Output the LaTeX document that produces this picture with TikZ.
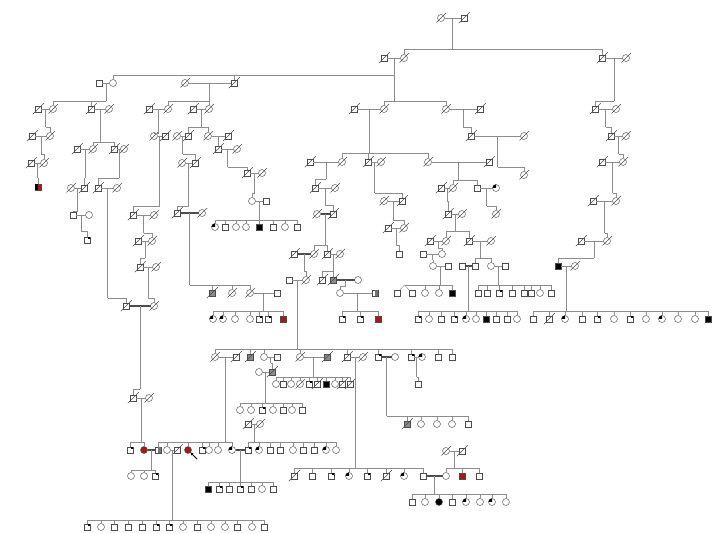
\documentclass[tikz,border=0pt]{standalone}
\usetikzlibrary{calc,arrows.meta}
\definecolor{redc}{RGB}{165,25,25}
\tikzset{
  ln/.style={draw=black!45, line width=0.45pt},
  dbl/.style={draw=black!70, line width=1.2pt},
  msym/.style={rectangle, draw=black!70, line width=0.45pt, fill=white, minimum size=6.5pt, inner sep=0pt, outer sep=0pt},
  fsym/.style={circle, draw=black!70, line width=0.45pt, fill=white, minimum size=7pt, inner sep=0pt, outer sep=0pt},
  sl/.style={draw=black!70, line width=0.45pt}
}
\newcommand\pslash[1]{\draw[sl] ($(#1.south west)+(-2,2)$) -- ($(#1.north east)+(2.5,-2.5)$);}
\newcommand\pM[3]{\node[msym] (#1) at (#2,#3) {};}
\newcommand\pF[3]{\node[fsym] (#1) at (#2,#3) {};}
\newcommand\pMd[3]{\pM{#1}{#2}{#3}\pslash{#1}}
\newcommand\pFd[3]{\pF{#1}{#2}{#3}\pslash{#1}}
\newcommand\pMa[3]{\node[msym,fill=black] (#1) at (#2,#3) {};}
\newcommand\pFa[3]{\node[fsym,fill=black] (#1) at (#2,#3) {};}
\newcommand\pMr[3]{\node[msym,fill=redc] (#1) at (#2,#3) {};}
\newcommand\pFr[3]{\node[fsym,fill=redc] (#1) at (#2,#3) {};}
\newcommand\pMc[3]{\pM{#1}{#2}{#3}\fill[black] (#1.north east) rectangle ++(-2.6,2.6);}
\newcommand\pFc[3]{\pF{#1}{#2}{#3}\fill[black] (#1.center) -- (#1.west) -- (#1.north west) -- (#1.north) -- cycle;}
\newcommand\pMh[3]{\node[msym,fill=black!45] (#1) at (#2,#3) {};\pslash{#1}}
\newcommand\pMhalf[3]{\pM{#1}{#2}{#3}\fill[black!55] (#1.north) rectangle (#1.south east);}
\newcommand\pMrb[3]{\node[msym,fill=redc] (#1) at (#2,#3) {};\fill[black] (#1.north west) rectangle (#1.south);}
\newcommand\cp[3]{\draw[ln] (#1) -- (#2); \coordinate (#3) at ($(#1)!0.5!(#2)$);}
\newcommand\cpd[3]{\draw[dbl] (#1) -- (#2); \coordinate (#3) at ($(#1)!0.5!(#2)$);}
\newcommand\sib[4]{\path (#1) ++(0,#2) coordinate (#3); \draw[ln] (#1) -- (#3);
  \foreach \ch in {#4} {\draw[ln] (\ch) |- (#3);}}
\begin{document}
\begin{tikzpicture}[x=1pt,y=-1pt]
\useasboundingbox (0,0) rectangle (718,534);
\fill[white] (0,0) rectangle (718,534);
% ---------- generation I
\pFd{a1}{441}{18} \pMd{a2}{464}{18}
\cp{a1}{a2}{ma}
\pMd{b2}{384}{58} \pFd{b1}{404}{58}
\pMd{b3}{602}{58} \pFd{b4}{626}{58}
\sib{ma}{31}{maX}{b1,b3}
\cp{b2}{b1}{mb}
\cp{b3}{b4}{mc}
% ---------- children of b1/b2
\pM{d2}{99}{83} \pF{d1}{113}{83}
\pFd{d4}{185}{83} \pMd{d3}{234}{83}
\pFd{e1}{384}{109} \pMd{e2}{354}{109}
\pFd{e3}{446}{109} \pMd{e4}{480}{109}
\sib{mb}{17}{mbXA}{d1,d3}
\sib{mb}{43}{mbXB}{e1,e3}
% ---------- far left branch
\cp{d2}{d1}{md}
\pMd{f2}{38}{109} \pFd{f1}{53}{109} \pMd{f3}{91}{109} \pFd{f4}{109}{109}
\sib{md}{18}{mdX}{f1,f3}
\cp{f2}{f1}{mfa}
\pMd{g2}{32}{136} \pFd{g1}{50}{136}
\sib{mfa}{18}{mfaX}{g1}
\cp{g2}{g1}{mg}
\pMd{h2}{31}{163} \pFd{h1}{44}{163}
\sib{mg}{18}{mgX}{h1}
\cp{h2}{h1}{mh}
\pMrb{i1}{38}{187}
\sib{mh}{15}{mhX}{i1}
\cp{f3}{f4}{mfb}
\pMd{j2}{77}{149} \pFd{j1}{93}{149} \pMd{j3}{114}{149} \pFd{j4}{124}{149}
\sib{mfb}{33}{mfbX}{j1,j3}
\cp{j2}{j1}{mja}
\pFd{k2}{71}{188} \pMd{k1}{84}{188}
\sib{mja}{29}{mjaX}{k1}
\cp{k2}{k1}{mk}
\pM{l1}{73}{215} \pF{l2}{89}{215}
\sib{mk}{23}{mkX}{l1}
\cp{l1}{l2}{ml}
\pMc{l3}{87}{240}
\sib{ml}{16}{mlX}{l3}
\cp{j3}{j4}{mjb}
\pMd{m1}{98}{188} \pFd{m2}{117}{188}
\sib{mjb}{29}{mjbX}{m1}
\cp{m1}{m2}{mm}
\pMd{n1}{126}{306}
\sib{mm}{110}{mmX}{n1}
% ---------- second left branch
\cp{d4}{d3}{mdd}
\pMd{o2}{149}{109} \pFd{o1}{168}{109} \pMd{o4}{193}{109} \pFd{o3}{209}{109}
\sib{mdd}{18}{mddX}{o1,o3}
\cp{o2}{o1}{moa}
\pFd{p1}{154}{136} \pMd{p2}{165}{136}
\sib{moa}{24}{moaX}{p1}
\cp{p1}{p2}{mp}
\pMd{q1}{133}{215} \pFd{q2}{154}{215}
\sib{mp}{70}{mpX}{q1}
\cp{q1}{q2}{mq}
\pMd{r2}{138}{241} \pFd{r1}{152}{241}
\sib{mq}{18}{mqX}{r1}
\cp{r2}{r1}{mr}
\pMd{s1}{140}{267} \pFd{s2}{156}{267}
\sib{mr}{17}{mrX}{s1}
\cp{s1}{s2}{ms}
\pFd{t1}{154}{306}
\sib{ms}{31}{msX}{t1}
\cpd{n1}{t1}{mn}
\pMd{u1}{133}{398} \pFd{u2}{149}{398}
\sib{mn}{83}{mnX}{u1}
\cp{u1}{u2}{mu}
\pMc{v1}{130}{450} \pFr{v2}{144}{450}
\sib{mu}{44}{muX}{v1,v2}
% ---------- third branch
\cp{o4}{o3}{mob}
\pFd{w2}{177}{136} \pMd{w1}{188}{136} \pFd{w3}{208}{136} \pMd{w4}{228}{136}
\sib{mob}{18}{mobX}{w1,w3}
\cp{w2}{w1}{mwa}
\pFd{x2}{182}{163} \pMd{x1}{195}{163}
\sib{mwa}{18}{mwaX}{x1}
\cp{x2}{x1}{mx}
\pMd{y1}{177}{213} \pFd{y2}{202}{213}
\sib{mx}{43}{mxX}{y1}
\cpd{y1}{y2}{my}
\pMh{z1}{212}{293} \pFd{z2}{232}{293} \pFd{z3}{250}{293} \pM{z4}{277}{293}
\sib{my}{72}{myX}{z1,z2,z3}
\cp{z3}{z4}{mz}
\pFc{za}{213}{319} \pFc{zb}{223}{319} \pF{zc}{235}{319} \pF{zd}{250}{319}
\pMc{ze}{259}{319} \pMc{zf}{268}{319} \pMr{zg}{283}{319}
\sib{mz}{18}{mzX}{za,zb,zc,zd,ze,zf,zg}
\cp{w3}{w4}{mwb}
\pMd{aa1}{218}{149} \pFd{aa2}{237}{149}
\sib{mwb}{7}{mwbX}{aa1}
\cp{aa1}{aa2}{maa}
\pMd{bb1}{247}{173} \pFd{bb2}{262}{173}
\sib{maa}{18}{maaX}{bb1}
\cp{bb1}{bb2}{mbb}
\pF{cc1}{252}{201} \pM{cc2}{266}{201}
\sib{mbb}{20}{mbbX}{cc1}
\cp{cc1}{cc2}{mcc}
\pFc{ca1}{215}{227} \pM{ca2}{225}{227} \pF{ca3}{236}{227} \pF{ca4}{246}{227}
\pMa{ca5}{259}{227} \pM{ca6}{273}{227} \pF{ca7}{285}{227} \pM{ca8}{297}{227}
\sib{mcc}{19}{mccX}{ca1,ca2,ca3,ca4,ca5,ca6,ca7,ca8}
% ---------- central branch
\cp{e2}{e1}{mea}
\pMd{ff2}{310}{162} \pFd{ff1}{342}{162} \pMd{ff3}{368}{162} \pFd{ff4}{381}{162}
\pFd{ff5}{428}{162} \pMd{ff6}{489}{162}
\sib{mea}{44}{meaX}{ff1,ff3,ff5}
\cp{ff2}{ff1}{mfa1}
\pMd{gg1}{315}{188} \pFd{gg2}{335}{188}
\sib{mfa1}{17}{mfa1X}{gg1}
\cp{gg1}{gg2}{mgg}
\pFd{hh2}{317}{214} \pMd{hh1}{333}{214}
\sib{mgg}{17}{mggX}{hh1}
\cpd{hh2}{hh1}{mhh}
\pMd{ii2}{294}{254} \pFd{ii1}{314}{254} \pMd{ii3}{327}{254} \pFd{ii4}{340}{254}
\sib{mhh}{31}{mhhX}{ii1,ii3}
\cpd{ii2}{ii1}{mia}
\cp{ii3}{ii4}{mib}
\pM{jj2}{289}{280} \pFd{jj1}{306}{280}
\sib{mia}{17}{miaX}{jj1}
\pMd{kk1}{322}{280} \pMh{kk2}{333}{280} \pF{kk3}{358}{280}
\sib{mib}{17}{mibX}{kk1,kk2}
\cpd{kk2}{kk3}{mkk}
\pF{ll1}{340}{293} \pMhalf{ll2}{375}{293}
\sib{mkk}{6}{mkkX}{ll1}
\cp{ll1}{ll2}{mll}
\pMc{la}{342}{319} \pMc{lb}{360}{319} \pMr{lc}{378}{319}
\sib{mll}{18}{mllX}{la,lb,lc}
\cp{jj2}{jj1}{mjj}
% big sibship
\pFd{bg1}{215}{357} \pMd{bg2}{236}{357} \pMh{bg3}{250}{357} \pF{bg4}{264}{357} \pM{bg5}{277}{357}
\pFd{bg6}{300}{357} \pMh{bg7}{327}{357} \pMd{bg8}{347}{357} \pFd{bg9}{363}{357}
\pMc{bg10}{378}{357} \pF{bg11}{395}{357} \pMc{bg12}{411}{357} \pFc{bg13}{422}{357}
\pM{bg14}{438}{357} \pM{bg15}{452}{357}
\sib{mjj}{69}{mjjX}{bg1,bg3,bg4,bg6,bg8,bg10,bg12,bg14,bg15}
\cp{bg1}{bg2}{mg1}
\pMhalf{ra1}{158}{450} \pF{ra2}{167}{450} \pMd{ra3}{177}{450} \pFr{ra4}{188}{450}
\pMc{ra5}{202}{450} \pF{ra6}{209}{450} \pF{ra7}{218}{450} \pFc{ra8}{232}{450}
\sib{mg1}{85}{mg1X}{ra1,ra2,ra4,ra5,ra6,ra7,ra8}
\cpd{v2}{ra1}{mv2}
\pF{rb1}{131}{476} \pF{rb2}{144}{476} \pMc{rb3}{155}{476}
\sib{mv2}{20}{mv2X}{rb1,rb2,rb3}
\cp{ra2}{ra3}{mra}
\pMc{rc1}{87}{527} \pF{rc2}{101}{527} \pM{rc3}{114}{527} \pM{rc4}{128}{527} \pM{rc5}{142}{527}
\pMc{rc6}{156}{527} \pMc{rc7}{169}{527} \pF{rc8}{183}{527} \pM{rc9}{197}{527} \pF{rc10}{211}{527}
\pF{rc11}{225}{527} \pM{rc12}{237}{527} \pF{rc13}{252}{527} \pM{rc14}{264}{527}
\sib{mra}{70}{mraX}{rc1,rc2,rc3,rc4,rc5,rc6,rc7,rc8,rc9,rc10,rc11,rc12,rc13,rc14}
\pMd{rd1}{248}{424} \pFd{rd2}{260}{424}
\cp{rd1}{rd2}{mrd}
\pMc{re1}{248}{450} \pFc{re2}{259}{450} \pM{re3}{270}{450} \pM{re4}{280}{450} \pF{re5}{293}{450}
\pM{re6}{303}{450} \pM{re7}{314}{450} \pFc{re8}{326}{450} \pF{re9}{336}{450}
\sib{mrd}{18}{mrdX}{re1,re2,re3,re4,re5,re6,re7,re8,re9}
\cpd{ra8}{re1}{mr8}
\pMa{rf1}{208}{489} \pMc{rf2}{219}{489} \pM{rf3}{229}{489} \pMc{rf4}{240}{489}
\pM{rf5}{251}{489} \pF{rf6}{262}{489} \pM{rf7}{273}{489}
\sib{mr8}{32}{mr8X}{rf1,rf2,rf3,rf4,rf5,rf6,rf7}
\coordinate (arrt) at (197,459);
\draw[black, line width=0.9pt, -{Stealth[length=3pt,width=3pt]}] (arrt) -- (ra4.south east);
\cp{bg4}{bg5}{mg4}
\pF{wa2}{259}{372} \pMh{wa1}{272}{372}
\sib{mg4}{6}{mg4X}{wa1}
\cp{wa2}{wa1}{mwa2}
\pF{wb1}{240}{410} \pF{wb2}{251}{410} \pMc{wb3}{262}{410} \pF{wb4}{273}{410}
\pM{wb5}{283}{410} \pF{wb6}{292}{410} \pM{wb7}{302}{410}
\sib{mwa2}{31}{mwa2X}{wb1,wb2,wb3,wb4,wb5,wb6,wb7}
\cp{bg6}{bg7}{mg6}
\pF{xa1}{276}{384} \pM{xa2}{283}{384} \pF{xa3}{291}{384} \pFd{xa4}{300}{384} \pMc{xa5}{309}{384}
\pMd{xa6}{317}{384} \pMa{xa7}{326}{384} \pF{xa8}{335}{384} \pMd{xa9}{342}{384} \pMd{xa10}{350}{384}
\sib{mg6}{20}{mg6X}{xa1,xa2,xa3,xa4,xa5,xa6,xa7,xa8,xa9,xa10}
\cp{bg8}{bg9}{mg8}
\pMd{ya1}{294}{476} \pM{ya2}{312}{476} \pMc{ya3}{331}{476} \pFc{ya4}{349}{476}
\pMc{ya5}{367}{476} \pMd{ya6}{386}{476} \pFc{ya7}{404}{476} \pM{ya8}{423}{476}
\sib{mg8}{111}{mg8X}{ya1,ya2,ya3,ya4,ya5,ya6,ya7,ya8}
\pFd{yb1}{446}{451} \pMd{yb2}{462}{451}
\cp{yb1}{yb2}{myb}
\pF{yc1}{446}{476} \pMr{yc2}{462}{476} \pM{yc3}{479}{476}
\sib{myb}{17}{mybX}{yc1,yc2,yc3}
\cpd{ya8}{yc1}{mya8}
\pM{yd1}{412}{502} \pF{yd2}{425}{502} \pFa{yd3}{439}{502} \pM{yd4}{452}{502}
\pFc{yd5}{466}{502} \pF{yd6}{480}{502} \pFc{yd7}{492}{502} \pF{yd8}{506}{502}
\sib{mya8}{18}{mya8X}{yd1,yd2,yd3,yd4,yd5,yd6,yd7,yd8}
\cpd{bg10}{bg11}{mg10}
\pMh{ga1}{407}{424} \pF{ga2}{421}{424} \pF{ga3}{437}{424} \pF{ga4}{452}{424} \pM{ga5}{468}{424}
\sib{mg10}{59}{mg10X}{ga1,ga2,ga3,ga4,ga5}
\cp{bg12}{bg13}{mg12}
\pM{gb1}{418}{384}
\sib{mg12}{20}{mg12X}{gb1}
% ---------- ff3/ff4 line
\cp{ff3}{ff4}{mf3}
\pFd{ha2}{384}{201} \pMd{ha1}{402}{201}
\sib{mf3}{31}{mf3X}{ha1}
\cp{ha2}{ha1}{mha}
\pMd{hb2}{388}{228} \pFd{hb1}{404}{228}
\sib{mha}{19}{mhaX}{hb1}
\cp{hb2}{hb1}{mhb}
\pM{hc1}{399}{254}
\sib{mhb}{17}{mhbX}{hc1}
% ---------- ff5/ff6 line
\cp{ff5}{ff6}{mf5}
\pMd{ia2}{441}{188} \pFd{ia1}{453}{188} \pM{ia3}{477}{188} \pFc{ia4}{496}{188}
\sib{mf5}{18}{mf5X}{ia1,ia3}
\cp{ia2}{ia1}{mi1}
\cp{ia3}{ia4}{mi3}
\pFd{ia5}{496}{214}
\sib{mi3}{18}{mi3X}{ia5}
\pMd{ib1}{448}{214} \pFd{ib2}{462}{214}
\sib{mi1}{13}{mi1X}{ib1}
\cp{ib1}{ib2}{mib1}
\pMd{ic2}{430}{241} \pFd{ic1}{446}{241} \pMd{ic3}{469}{241} \pFd{ic4}{491}{241}
\sib{mib1}{17}{mib1X}{ic1,ic3}
\cp{ic2}{ic1}{mic1}
\pM{id2}{423}{254} \pF{id1}{442}{254}
\sib{mic1}{7}{mic1X}{id1}
\cp{id2}{id1}{mid1}
\pF{ie1}{433}{266} \pM{ie2}{448}{266}
\sib{mid1}{6}{mid1X}{ie1}
\cp{ie1}{ie2}{mie}
\pM{if1}{397}{293} \pM{if2}{412}{293} \pF{if3}{425}{293} \pF{if4}{439}{293} \pMa{if5}{452}{293}
\path (mie) ++(0,19) coordinate (mieX);
\draw[ln] (mie) -- (mieX);
\coordinate (tw) at (404.5,285);
\draw[ln] (tw) -- (mieX);
\draw[ln] (tw) -- (if1);
\draw[ln] (tw) -- (if2);
\foreach \ch in {if3,if4,if5} {\draw[ln] (\ch) |- (mieX);}
\cp{ic3}{ic4}{mic3}
\pM{ig0}{462}{266} \pM{ig1}{475}{266} \pF{ig2}{491}{266} \pM{ig3}{505}{266}
\sib{mic3}{17}{mic3X}{ig1,ig2}
\cpd{ig0}{ig1}{mig0}
\cp{ig2}{ig3}{mig2}
\pMc{ih1}{418}{319} \pF{ih2}{429}{319} \pM{ih3}{441}{319} \pMc{ih4}{454}{319} \pFc{ih5}{466}{319}
\pF{ih6}{476}{319} \pMa{ih7}{486}{319} \pM{ih8}{496}{319} \pM{ih9}{507}{319} \pF{ih10}{517}{319}
\sib{mig0}{45}{mig0X}{ih1,ih2,ih3,ih4,ih5,ih6,ih7,ih8,ih9,ih10}
\pM{ij1}{478}{293} \pM{ij2}{487}{293} \pMc{ij3}{499}{293} \pM{ij4}{512}{293}
\pM{ij5}{524}{293} \pM{ij6}{531}{293} \pF{ij7}{540}{293} \pM{ij8}{551}{293}
\sib{mig2}{19}{mig2X}{ij1,ij2,ij3,ij4,ij5,ij6,ij7,ij8}
% ---------- e3/e4 line
\cp{e3}{e4}{me3}
\pMd{ja1}{471}{136} \pFd{ja2}{524}{136}
\sib{me3}{18}{me3X}{ja1}
\cp{ja1}{ja2}{mja1}
\pFd{ja3}{524}{175}
\sib{mja1}{31}{mja1X}{ja3}
% ---------- right branch
\pMd{ka1}{595}{109} \pFd{ka2}{616}{109}
\sib{mc}{43}{mcX}{ka1}
\cp{ka1}{ka2}{mka}
\pMd{kb1}{611}{136} \pFd{kb2}{626}{136}
\sib{mka}{18}{mkaX}{kb1}
\cp{kb1}{kb2}{mkb1}
\pMd{kc2}{602}{162} \pFd{kc1}{623}{162}
\sib{mkb1}{18}{mkb1X}{kc1}
\cp{kc2}{kc1}{mkc}
\pMd{kd2}{593}{201} \pFd{kd1}{616}{201}
\sib{mkc}{31}{mkcX}{kd1}
\cp{kd2}{kd1}{mkd}
\pMd{ke2}{581}{241} \pFd{ke1}{607}{241}
\sib{mkd}{32}{mkdX}{ke1}
\cp{ke2}{ke1}{mke}
\pMa{kf1}{558}{266} \pFd{kf2}{575}{266}
\sib{mke}{17}{mkeX}{kf1}
\cp{kf1}{kf2}{mkf}
\pM{kg1}{533}{319} \pMd{kg2}{549}{319} \pFc{kg3}{565}{319} \pM{kg4}{582}{319} \pMc{kg5}{597}{319}
\pF{kg6}{614}{319} \pMc{kg7}{630}{319} \pF{kg8}{646}{319} \pFc{kg9}{662}{319} \pF{kg10}{678}{319}
\pF{kg11}{695}{319} \pMa{kg12}{708}{319}
\sib{mkf}{45}{mkfX}{kg1,kg2,kg3,kg4,kg5,kg6,kg7,kg8,kg9,kg10,kg11,kg12}
\end{tikzpicture}
\end{document}
